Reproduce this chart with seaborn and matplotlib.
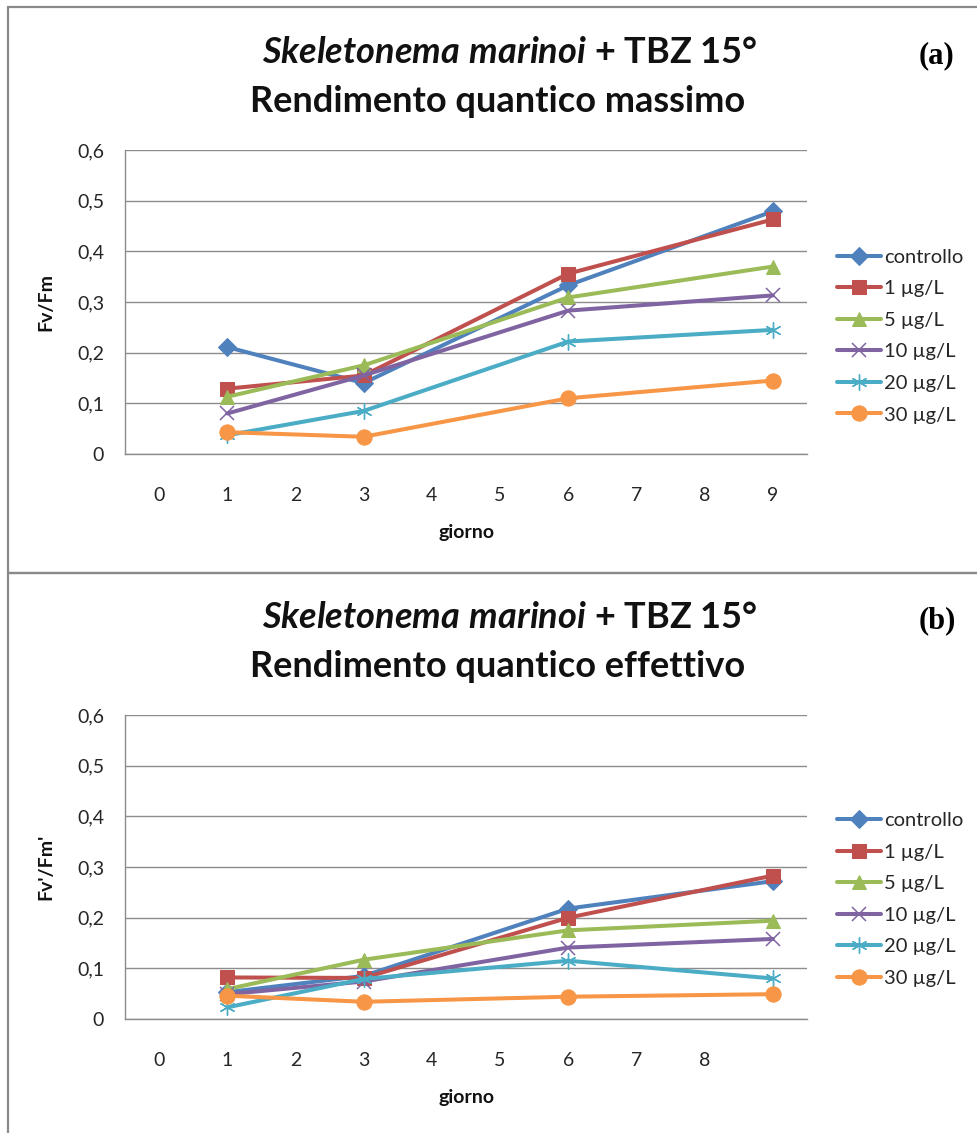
import matplotlib
matplotlib.use("Agg")
import matplotlib.pyplot as plt
from matplotlib.patches import Rectangle
import seaborn as sns
import pandas as pd

sns.set_theme(style="white")
plt.rcParams["font.family"] = ["Lato", "DejaVu Sans"]
plt.rcParams["mathtext.fontset"] = "custom"
plt.rcParams["mathtext.it"] = "Lato:italic:bold"
plt.rcParams["mathtext.rm"] = "Lato:bold"

# Sampling days and treatment groups
days = [1, 3, 6, 9]
groups = ["controllo", "1 µg/L", "5 µg/L", "10 µg/L", "20 µg/L", "30 µg/L"]

# Maximum quantum yield (Fv/Fm)
fvfm_controllo = [0.211, 0.140, 0.333, 0.479]
fvfm_1 = [0.129, 0.155, 0.356, 0.463]
fvfm_5 = [0.113, 0.175, 0.309, 0.370]
fvfm_10 = [0.080, 0.155, 0.283, 0.313]
fvfm_20 = [0.037, 0.085, 0.222, 0.245]
fvfm_30 = [0.043, 0.034, 0.110, 0.145]

# Effective quantum yield (Fv'/Fm')
fvfmp_controllo = [0.053, 0.085, 0.218, 0.272]
fvfmp_1 = [0.082, 0.081, 0.200, 0.283]
fvfmp_5 = [0.059, 0.117, 0.175, 0.194]
fvfmp_10 = [0.049, 0.074, 0.141, 0.158]
fvfmp_20 = [0.023, 0.079, 0.115, 0.080]
fvfmp_30 = [0.046, 0.034, 0.044, 0.049]

ytick_values = [0, 0.1, 0.2, 0.3, 0.4, 0.5, 0.6]
ytick_labels = ["0", "0,1", "0,2", "0,3", "0,4", "0,5", "0,6"]
xtick_labels_a = [str(i) for i in range(10)]
xtick_labels_b = [str(i) for i in range(9)]

colors = ["#4F81BD", "#C0504D", "#9BBB59", "#8064A2", "#4BACC6", "#F79646"]
marker_styles = [
    dict(marker="D", markersize=9),
    dict(marker="s", markersize=9.5),
    dict(marker="^", markersize=10.5),
    dict(marker="x", markersize=9.5, markeredgewidth=1.1),
    dict(marker=(6, 2, 0), markersize=11.5, markeredgewidth=1.0),
    dict(marker="o", markersize=11),
]

W, H = 977, 1133
fig = plt.figure(figsize=(W / 100, H / 100), dpi=100)
fig.patch.set_facecolor("white")

# Chart frames
frame_kw = dict(transform=fig.transFigure, fill=False, edgecolor="#8a8a8a", linewidth=1.6)
fig.patches.append(Rectangle((8 / W, 1 - 573 / H), 1.2, (573 - 7) / H, **frame_kw))
fig.patches.append(Rectangle((8 / W, -0.2), 1.2, 0.2 + (H - 573) / H, **frame_kw))


def draw_panel(top_px, series, ylabel, xlabels, title2, tag, base1, legend_y):
    bottom_px = top_px + 304
    ax = fig.add_axes([125 / W, 1 - bottom_px / H, 682 / W, 304 / H])
    df = pd.DataFrame(
        {
            "giorno": days * len(groups),
            "valore": [v for s in series for v in s],
            "gruppo": [g for g in groups for _ in days],
        }
    )
    for g, c, m in zip(groups, colors, marker_styles):
        sub = df[df["gruppo"] == g]
        sns.lineplot(
            data=sub, x="giorno", y="valore", ax=ax, color=c, linewidth=2.9,
            label=g, markeredgecolor=c, zorder=3, **m
        )
    ax.set_xlim(-0.5, 9.5)
    ax.set_ylim(0, 0.6)
    ax.set_yticks(ytick_values)
    ax.set_yticklabels(ytick_labels)
    ax.set_xticks(range(len(xlabels)))
    ax.set_xticklabels(xlabels)
    ax.tick_params(axis="y", length=0, pad=15, labelsize=14, colors="#262626")
    ax.tick_params(axis="x", length=0, pad=24, labelsize=14, colors="#262626")
    ax.grid(axis="y", color="#8c8c8c", linewidth=1.0)
    ax.grid(axis="x", visible=False)
    for side in ["top", "right"]:
        ax.spines[side].set_visible(False)
    for side in ["left", "bottom"]:
        ax.spines[side].set_color("#8c8c8c")
        ax.spines[side].set_linewidth(1.0)
    ax.set_xlabel("giorno", fontsize=14, fontweight="bold", labelpad=14, color="#111111")
    ax.set_ylabel(ylabel, fontsize=14, fontweight="bold", color="#111111")
    ax.yaxis.set_label_coords(-0.103, 0.5)
    ax.legend(
        loc="center left", bbox_to_anchor=(837 / W, 1 - legend_y / H),
        bbox_transform=fig.transFigure, frameon=False, fontsize=14.5,
        handlelength=2.2, handletextpad=0.15, labelspacing=0.72, borderpad=0,
        borderaxespad=0,
    )
    fig.text(510 / W, 1 - base1 / H, "$\\it{Skeletonema\\ marinoi}$ + TBZ 15°",
             ha="center", va="baseline", fontsize=26, fontweight="bold", color="#111111")
    fig.text(498 / W, 1 - (base1 + 49) / H, title2,
             ha="center", va="baseline", fontsize=26, fontweight="bold", color="#111111")
    fig.text(937 / W, 1 - base1 / H, tag, ha="center", va="baseline",
             fontsize=22, fontweight="bold", family="Liberation Serif", color="#000000")
    return ax


draw_panel(150,
           [fvfm_controllo, fvfm_1, fvfm_5, fvfm_10, fvfm_20, fvfm_30],
           "Fv/Fm", xtick_labels_a, "Rendimento quantico massimo", "(a)", 63, 336)
draw_panel(715,
           [fvfmp_controllo, fvfmp_1, fvfmp_5, fvfmp_10, fvfmp_20, fvfmp_30],
           "Fv'/Fm'", xtick_labels_b, "Rendimento quantico effettivo", "(b)", 628, 899.5)

fig.savefig("out.png", dpi=100)
